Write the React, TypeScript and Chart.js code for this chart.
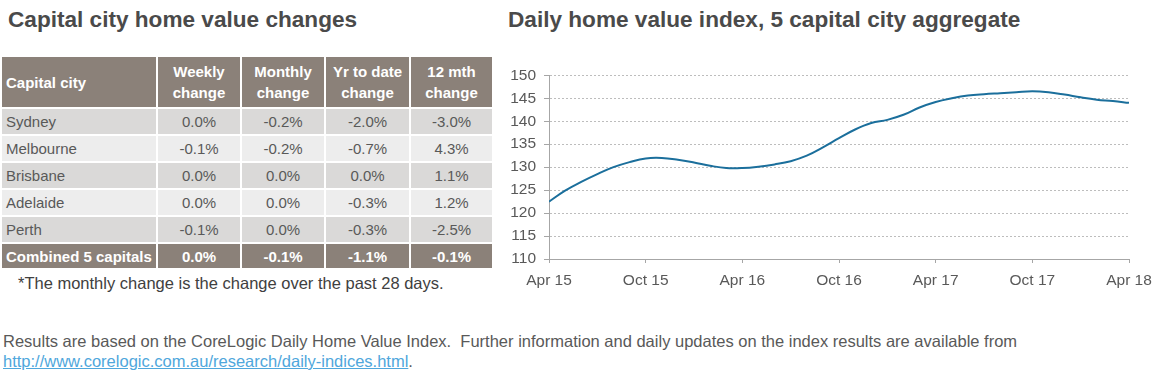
import React, { useEffect, useRef } from "react";
import { Chart, registerables } from "chart.js";

Chart.register(...registerables);

// ---- Table data ----
const tableHeaders = ["Capital city", "Weekly\nchange", "Monthly\nchange", "Yr to date\nchange", "12 mth\nchange"];
const cities = ["Sydney", "Melbourne", "Brisbane", "Adelaide", "Perth"];
const weeklyChange = ["0.0%", "-0.1%", "0.0%", "0.0%", "-0.1%"];
const monthlyChange = ["-0.2%", "-0.2%", "0.0%", "0.0%", "0.0%"];
const ytdChange = ["-2.0%", "-0.7%", "0.0%", "-0.3%", "-0.3%"];
const yearChange = ["-3.0%", "4.3%", "1.1%", "1.2%", "-2.5%"];
const combinedLabel = "Combined 5 capitals";
const combinedValues = ["0.0%", "-0.1%", "-1.1%", "-0.1%"];

// ---- Chart data (monthly, Apr 15 .. Apr 18) ----
const indexValues = [
  122.5, 124.9, 126.8, 128.5, 130.0, 131.1, 131.9, 132.0, 131.6, 131.0,
  130.3, 129.8, 129.8, 130.1, 130.6, 131.3, 132.5, 134.3, 136.3, 138.2,
  139.6, 140.3, 141.4, 143.0, 144.2, 145.0, 145.6, 145.9, 146.1, 146.3,
  146.5, 146.3, 145.8, 145.2, 144.7, 144.4, 144.0,
];
const xTickLabels = ["Apr 15", "Oct 15", "Apr 16", "Oct 16", "Apr 17", "Oct 17", "Apr 18"];
const yMin = 110;
const yMax = 150;
const yStep = 5;

const FONT = '"Liberation Sans", Arial, sans-serif';
const HEADER_BG = "#8b8179";
const ROW_DARK = "#dad9d8";
const ROW_LIGHT = "#ededed";
const TEXT = "#595959";

function LineChart() {
  const ref = useRef<HTMLCanvasElement>(null);
  useEffect(() => {
    if (!ref.current) return;
    const chart = new Chart(ref.current, {
      type: "line",
      data: {
        datasets: [
          {
            data: indexValues.map((v, i) => ({ x: i, y: v })),
            borderColor: "#1b6f9c",
            borderWidth: 2,
            pointRadius: 0,
            tension: 0.4,
            fill: false,
          },
        ],
      },
      options: {
        animation: false,
        responsive: false,
        maintainAspectRatio: false,
        layout: { padding: { top: 9, right: 31, left: 0, bottom: 0 } },
        plugins: { legend: { display: false }, tooltip: { enabled: false } },
        scales: {
          x: {
            type: "linear",
            min: 0,
            max: indexValues.length - 1,
            afterFit: (s: any) => {
              s.height = 30;
            },
            ticks: {
              stepSize: 6,
              autoSkip: false,
              maxRotation: 0,
              padding: 8,
              color: TEXT,
              font: { family: FONT, size: 15.5 },
              callback: (v: any) => {
                const idx = Math.round(Number(v) / 6);
                return xTickLabels[idx] ?? "";
              },
            },
            grid: {
              drawOnChartArea: false,
              drawTicks: true,
              tickLength: 4,
              tickColor: "#a6a6a6",
            },
            border: { display: true, color: "#a6a6a6", width: 1 },
          },
          y: {
            min: yMin,
            max: yMax,
            afterFit: (s: any) => {
              s.width = 49;
            },
            ticks: {
              stepSize: yStep,
              padding: 8,
              color: TEXT,
              font: { family: FONT, size: 15.5 },
            },
            grid: {
              color: "#bdbdbd",
              lineWidth: 1,
              drawTicks: true,
              tickLength: 5,
              tickColor: "#a6a6a6",
              tickBorderDash: [],
            } as any,
            border: { display: true, color: "#a6a6a6", width: 1, dash: [2, 2] } as any,
          },
        },
      },
    });
    return () => chart.destroy();
  }, []);
  return (
    <canvas
      ref={ref}
      width={660}
      height={231}
      style={{ position: "absolute", left: 500, top: 58, width: 660, height: 231 }}
    />
  );
}

function Cell(props: { children: any; bg: string; color: string; bold?: boolean; align?: "left" | "center" }) {
  return (
    <div
      style={{
        background: props.bg,
        color: props.color,
        fontWeight: props.bold ? "bold" : "normal",
        display: "flex",
        alignItems: "center",
        justifyContent: props.align === "left" ? "flex-start" : "center",
        textAlign: props.align === "left" ? "left" : "center",
        paddingLeft: props.align === "left" ? 4 : 0,
        whiteSpace: "pre-line",
        lineHeight: "21px",
      }}
    >
      {props.children}
    </div>
  );
}

export default function App() {
  const rows = cities.map((c, i) => [c, weeklyChange[i], monthlyChange[i], ytdChange[i], yearChange[i]]);
  return (
    <div
      style={{
        position: "absolute",
        left: 0,
        top: 0,
        width: 1160,
        height: 382,
        background: "#ffffff",
        fontFamily: FONT,
        overflow: "hidden",
      }}
    >
      <div
        style={{
          position: "absolute",
          left: 8,
          top: 7,
          fontSize: 22.6,
          fontWeight: "bold",
          color: "#4a4a4a",
          whiteSpace: "nowrap",
        }}
      >
        Capital city home value changes
      </div>
      <div
        style={{
          position: "absolute",
          left: 508,
          top: 7,
          fontSize: 22.6,
          fontWeight: "bold",
          color: "#4a4a4a",
          whiteSpace: "nowrap",
        }}
      >
        Daily home value index, 5 capital city aggregate
      </div>

      <div
        style={{
          position: "absolute",
          left: 2,
          top: 57,
          display: "grid",
          gridTemplateColumns: "154px 82px 82px 83px 81px",
          gridTemplateRows: "50px 25px 25px 25px 25px 25px 24px",
          columnGap: 2,
          rowGap: 2,
          fontSize: 15,
        }}
      >
        {tableHeaders.map((h, i) => (
          <Cell key={"h" + i} bg={HEADER_BG} color="#ffffff" bold align={i === 0 ? "left" : "center"}>
            {h}
          </Cell>
        ))}
        {rows.map((r, ri) =>
          r.map((v, ci) => (
            <Cell
              key={ri + "-" + ci}
              bg={ri % 2 === 0 ? ROW_DARK : ROW_LIGHT}
              color={TEXT}
              align={ci === 0 ? "left" : "center"}
            >
              {v}
            </Cell>
          ))
        )}
        <Cell bg={HEADER_BG} color="#ffffff" bold align="left">
          {combinedLabel}
        </Cell>
        {combinedValues.map((v, i) => (
          <Cell key={"c" + i} bg={HEADER_BG} color="#ffffff" bold>
            {v}
          </Cell>
        ))}
      </div>

      <div
        style={{
          position: "absolute",
          left: 18,
          top: 274,
          fontSize: 16.5,
          color: "#404040",
          whiteSpace: "nowrap",
        }}
      >
        *The monthly change is the change over the past 28 days.
      </div>

      <div
        style={{
          position: "absolute",
          left: 3,
          top: 331,
          fontSize: 16.5,
          lineHeight: "20px",
          color: "#595959",
          whiteSpace: "nowrap",
        }}
      >
        <div>
          Results are based on the CoreLogic Daily Home Value Index.&nbsp; Further information and daily updates on the
          index results are available from
        </div>
        <div>
          <span style={{ color: "#4fa7dc", textDecoration: "underline" }}>
            http://www.corelogic.com.au/research/daily-indices.html
          </span>
          .
        </div>
      </div>

      <LineChart />
    </div>
  );
}
